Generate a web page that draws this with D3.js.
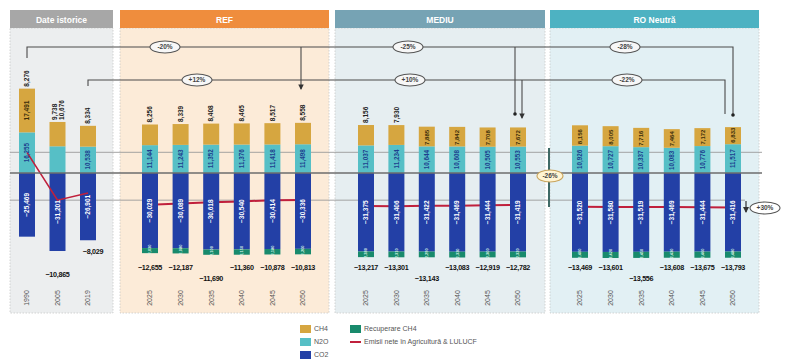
<!DOCTYPE html>
<html><head><meta charset="utf-8">
<script src="https://cdn.jsdelivr.net/npm/d3@7"></script>
<style>
html,body{margin:0;padding:0;background:#fff;}
svg{display:block;font-family:"Liberation Sans","DejaVu Sans",sans-serif;}
</style></head>
<body><svg id="c" width="785" height="360"></svg>
<script>
// ---------- data (kt CO2e) ----------
const histYears = ["1990","2005","2019"];
const histCH4 = [17491, 9738, 8334];
const histN2O = [16255, 10676, 10538];
const histCO2 = [-25469, -31201, -26901];
const histRec = [0, 0, 0];
const histNet = [8276, -10865, -8029];

const scenYears = ["2025","2030","2035","2040","2045","2050"];

const refCH4 = [8256, 8339, 8408, 8465, 8517, 8558];
const refN2O = [11144, 11243, 11352, 11376, 11418, 11498];
const refCO2 = [-30029, -30089, -30618, -30540, -30414, -30336];
const refRec = [-2030, -2080, -2100, -2150, -2180, -2200];
const refNet = [-12655, -12187, -11690, -11360, -10878, -10813];

const medCH4 = [8156, 7930, 7885, 7842, 7708, 7672];
const medN2O = [11037, 11234, 10644, 10608, 10505, 10553];
const medCO2 = [-31375, -31406, -31422, -31469, -31444, -31419];
const medRec = [-2280, -2310, -2290, -2330, -2300, -2320];
const medNet = [-13217, -13301, -13143, -13083, -12919, -12782];

const roCH4 = [8156, 8005, 7716, 7464, 7172, 6833];
const roN2O = [10926, 10727, 10337, 10083, 10776, 11517];
const roCO2 = [-31520, -31580, -31519, -31469, -31444, -31416];
const roRec = [-2400, -2420, -2450, -2430, -2460, -2480];
const roNet = [-13469, -13601, -13556, -13608, -13675, -13793];

const panelTitles = ["Date istorice", "REF", "MEDIU", "RO Neutră"];
const pctUpper = ["-20%", "-25%", "-28%"];
const pctLower = ["+12%", "+10%", "-22%"];
const pctMid = "-26%";
const pctRight = "+30%";
const legendLabels = ["CH4", "Recuperare CH4", "N2O", "Emisii nete în Agricultură & LULUCF", "CO2"];

// ---------- styles ----------
const col = {CH4:"#d6a640", N2O:"#56bfc6", CO2:"#2340a6", Rec:"#188a6c", net:"#c0203c"};
const panels = [
  {x0:10,  x1:113, head:"#a7a7a7", body:"#eceeef", years:histYears, CH4:histCH4, N2O:histN2O, CO2:histCO2, Rec:histRec, net:histNet, p0:27, p1:88},
  {x0:120, x1:329, head:"#ef8d3d", body:"#fcebd8", years:scenYears, CH4:refCH4, N2O:refN2O, CO2:refCO2, Rec:refRec, net:refNet, p0:150, p1:303, ch4Above:[1,1,1,1,1,1]},
  {x0:335, x1:545, head:"#76a3b4", body:"#e6eef1", years:scenYears, CH4:medCH4, N2O:medN2O, CO2:medCO2, Rec:medRec, net:medNet, p0:366, p1:518, ch4Above:[1,1,0,0,0,0]},
  {x0:550, x1:759, head:"#4db2c2", body:"#e2f0f4", years:scenYears, CH4:roCH4, N2O:roN2O, CO2:roCO2, Rec:roRec, net:roNet, p0:580, p1:733, ch4Above:[0,0,0,0,0,0]}
];

const svg = d3.select("#c");
const y = d3.scaleLinear().domain([-40000, 40000]).range([273, 73]);
const fmt = d3.format(",");
const bw = 16;

panels.forEach((p, i) => {
  svg.append("rect").attr("x", p.x0).attr("y", 28).attr("width", p.x1 - p.x0).attr("height", 285)
    .attr("fill", p.body).attr("stroke", "#c9c9c9").attr("stroke-width", 0.8).attr("stroke-dasharray", "1.5,1.5");
  svg.append("rect").attr("x", p.x0).attr("y", 10).attr("width", p.x1 - p.x0).attr("height", 18).attr("fill", p.head);
  svg.append("text").attr("x", (p.x0 + p.x1) / 2).attr("y", 22.5).attr("text-anchor", "middle")
    .attr("fill", "#fff").attr("font-size", 8.5).attr("font-weight", "bold").text(panelTitles[i]);
});

svg.append("line").attr("x1", 10).attr("x2", 762).attr("y1", y(histNet[0])).attr("y2", y(histNet[0]))
  .attr("stroke", "#9a9a9a").attr("stroke-width", 0.9);
svg.append("line").attr("x1", 10).attr("x2", 745).attr("y1", y(histNet[1])).attr("y2", y(histNet[1]))
  .attr("stroke", "#9a9a9a").attr("stroke-width", 0.9);

const gBars = svg.append("g");
const gLines = svg.append("g");
const gText = svg.append("g");

const rot = (g, cx, cy, txt, color, size, anchor) =>
  g.append("text").attr("transform", `translate(${cx},${cy}) rotate(-90)`)
    .attr("text-anchor", anchor || "middle").attr("dy", "0.35em")
    .attr("fill", color).attr("font-size", size || 6.5).attr("font-weight", "bold").text(txt);

panels.forEach((p, pi) => {
  const x = d3.scalePoint().domain(p.years).range([p.p0, p.p1]);
  const rows = p.years.map((yr, i) => ({year: yr, N2O: p.N2O[i], CH4: p.CH4[i], CO2: p.CO2[i], Rec: p.Rec[i]}));
  const series = d3.stack().keys(["N2O", "CH4", "CO2", "Rec"]).offset(d3.stackOffsetDiverging)(rows);

  const line = d3.line().x((d, i) => x(p.years[i])).y(d => y(d));
  if (pi > 0) {
    gBars.append("path").attr("d", line(p.net)).attr("fill", "none").attr("stroke", col.net).attr("stroke-width", 2);
  }

  series.forEach(s => {
    gBars.selectAll(null).data(s).join("rect")
      .attr("x", d => x(d.data.year) - bw / 2).attr("width", bw)
      .attr("y", d => y(Math.max(d[0], d[1])))
      .attr("height", d => Math.abs(y(d[0]) - y(d[1])))
      .attr("fill", col[s.key]);
  });

  if (pi === 0) {
    gLines.append("path").attr("d", line(p.net)).attr("fill", "none").attr("stroke", col.net).attr("stroke-width", 1.6);
  }

  p.years.forEach((yr, i) => {
    const cx = x(yr);
    const n2oTop = y(p.N2O[i]);
    const top = y(p.N2O[i] + p.CH4[i]);
    rot(gText, cx, (y(0) + y(p.CO2[i])) / 2, fmt(p.CO2[i]), "#fff", 6.5);
    if (!(pi === 0 && i === 1)) rot(gText, cx, (y(0) + n2oTop) / 2, fmt(p.N2O[i]), "#1d3f8f", 6.3);
    if (pi === 0) {
      if (i === 0) {
        rot(gText, cx, (n2oTop + top) / 2, fmt(p.CH4[i]), "#3a2d0a", 6.5);
        rot(gText, cx, top - 2, fmt(p.net[i]), "#222", 6.5, "start");
      } else if (i === 1) {
        rot(gText, cx - 3, top - 2, fmt(p.CH4[i]), "#222", 6.5, "start");
        rot(gText, cx + 4, top - 2, fmt(p.N2O[i]), "#222", 6.5, "start");
      } else {
        rot(gText, cx, top - 2, fmt(p.CH4[i]), "#222", 6.5, "start");
      }
    } else {
      if (p.ch4Above[i]) rot(gText, cx, top - 2, fmt(p.CH4[i]), "#222", 6.5, "start");
      else rot(gText, cx, n2oTop - 1.5, fmt(p.CH4[i]), "#3a2d0a", 6, "start");
      const rb = y(p.CO2[i] + p.Rec[i]);
      rot(gText, cx, (y(p.CO2[i]) + rb) / 2, fmt(p.Rec[i]).replace("-", ""), "#d8f2e6", 4);
    }
    gText.append("text").attr("transform", `translate(${cx},298) rotate(-90)`).attr("text-anchor", "middle")
      .attr("dy", "0.35em").attr("fill", "#555").attr("font-size", 7).text(yr);
    const netText = (tx, ty) => gText.append("text").attr("x", tx).attr("y", ty).attr("text-anchor", "middle")
      .attr("font-size", 7.2).attr("font-weight", "bold").attr("letter-spacing", -0.3).attr("fill", "#111").text(fmt(p.net[i]));
    if (pi > 0) netText(cx, i === 2 ? 281 : 270);
    else if (i === 1) netText(cx, 277);
    else if (i === 2) netText(cx + 5, 254);
  });
  p.x = x;
});

svg.append("line").attr("x1", 10).attr("x2", 762).attr("y1", y(0)).attr("y2", y(0))
  .attr("stroke", "#6d6d6d").attr("stroke-width", 1.3);

const defs = svg.append("defs");
defs.append("marker").attr("id", "arr").attr("viewBox", "0 0 6 6").attr("refX", 5).attr("refY", 3)
  .attr("markerWidth", 5).attr("markerHeight", 5).attr("orient", "auto")
  .append("path").attr("d", "M0,0L6,3L0,6Z").attr("fill", "#333");
const gc = svg.append("g").attr("fill", "none").attr("stroke", "#4a4a4a").attr("stroke-width", 1.1);
const xH = panels[0].x, xR = panels[1].x, xM = panels[2].x, xN = panels[3].x;
const yU = 47, yL = 80;
gc.append("path").attr("d", `M${xH("1990")},58V${yU}H${xN("2050")}V114`);
gc.append("path").attr("d", `M${xR("2050") - 2},${yU}V89`).attr("marker-end", "url(#arr)");
gc.append("path").attr("d", `M${xM("2050") - 3},${yU}V114`);
gc.append("path").attr("d", `M${xH("2019")},86V${yL}H${xN("2050") - 8}V114`);
gc.append("path").attr("d", `M${xM("2050") + 4},${yL}V118`).attr("marker-end", "url(#arr)");
[[xM("2050") - 3, 114], [xN("2050"), 115]].forEach(d =>
  svg.append("circle").attr("cx", d[0]).attr("cy", d[1]).attr("r", 1.8).attr("fill", "#222"));

const ell = (cx, cy, txt, fill, stroke, rx) => {
  svg.append("ellipse").attr("cx", cx).attr("cy", cy).attr("rx", rx || 15).attr("ry", 6)
    .attr("fill", fill).attr("stroke", stroke).attr("stroke-width", 1.1);
  svg.append("text").attr("x", cx).attr("y", cy).attr("dy", "0.35em").attr("text-anchor", "middle")
    .attr("font-size", 6.5).attr("font-weight", "bold").attr("fill", "#444").text(txt);
};
[[165, 197], [408, 410], [625, 627]].forEach((d, i) => {
  ell(d[0], yU, pctUpper[i], "#f7f7f7", "#555");
  ell(d[1], yL, pctLower[i], "#f7f7f7", "#555");
});

svg.append("line").attr("x1", 549).attr("x2", 549).attr("y1", 148).attr("y2", 207)
  .attr("stroke", "#3f6a66").attr("stroke-width", 2);
ell(550, 176, pctMid, "#fff4d2", "#c9a45c", 13);

svg.append("line").attr("x1", 746).attr("x2", 746).attr("y1", 201).attr("y2", 212)
  .attr("stroke", "#333").attr("stroke-width", 1.2).attr("marker-end", "url(#arr)");
ell(765, 208, pctRight, "#fff", "#555", 15);

const lg = svg.append("g").attr("font-size", 7).attr("fill", "#555");
const items = [
  {x:300, y:329, c:col.CH4, t:legendLabels[0]},
  {x:350, y:329, c:col.Rec, t:legendLabels[1]},
  {x:300, y:342, c:col.N2O, t:legendLabels[2]},
  {x:350, y:342, c:col.net, t:legendLabels[3], line:true},
  {x:300, y:355, c:col.CO2, t:legendLabels[4]}
];
items.forEach(it => {
  if (it.line) lg.append("line").attr("x1", it.x).attr("x2", it.x + 11).attr("y1", it.y).attr("y2", it.y)
    .attr("stroke", it.c).attr("stroke-width", 2);
  else lg.append("rect").attr("x", it.x).attr("y", it.y - 4).attr("width", 11).attr("height", 8).attr("fill", it.c);
  lg.append("text").attr("x", it.x + 14).attr("y", it.y).attr("dy", "0.35em").text(it.t);
});
</script></body></html>
